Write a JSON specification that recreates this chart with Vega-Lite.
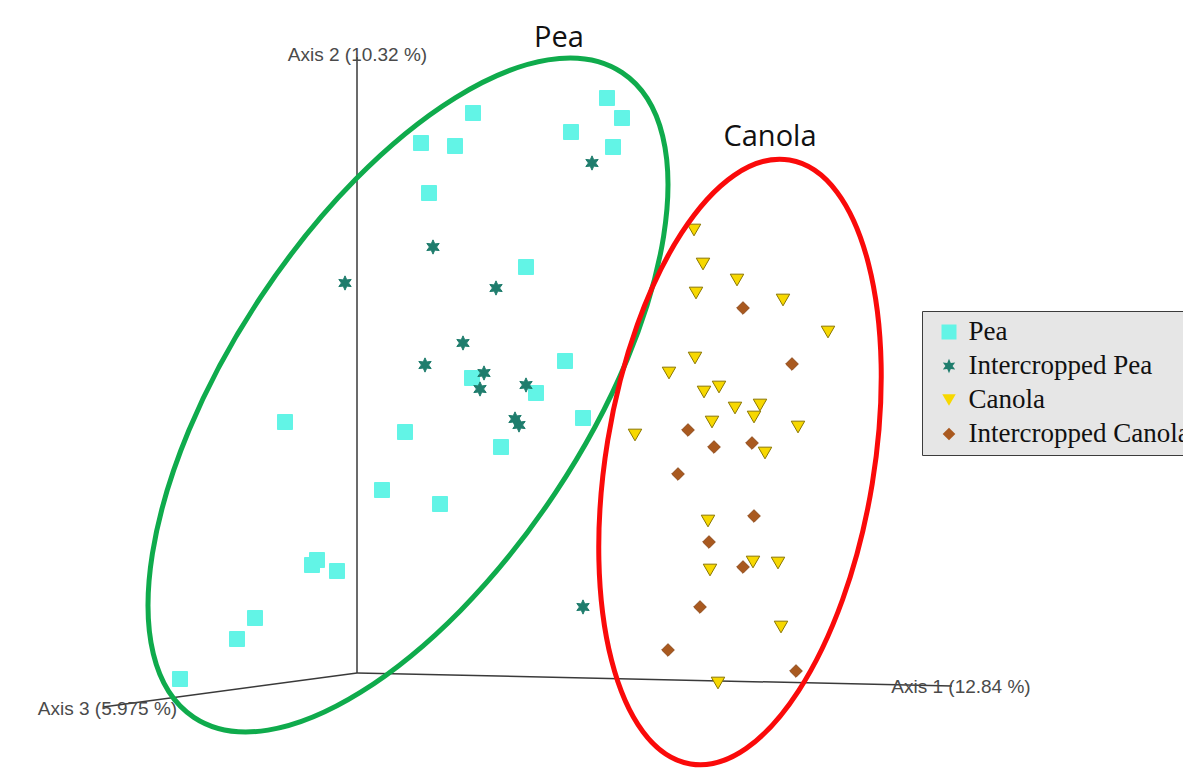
{
  "$schema": "https://vega.github.io/schema/vega-lite/v6.json",
  "width": 1183,
  "height": 772,
  "autosize": {"type": "none"},
  "padding": 0,
  "background": "white",
  "config": {"view": {"stroke": null}},
  "datasets": {
    "axes": [
      {"axis": "Axis 2", "x": 357, "y": 57, "x2": 357, "y2": 673},
      {"axis": "Axis 1", "x": 357, "y": 673, "x2": 952, "y2": 686},
      {"axis": "Axis 3", "x": 357, "y": 673, "x2": 103, "y2": 707}
    ],
    "axisLabels": [
      {"label": "Axis 2 (10.32 %)", "x": 357.5, "y": 55},
      {"label": "Axis 1 (12.84 %)", "x": 961, "y": 687},
      {"label": "Axis 3 (5.975 %)", "x": 107.5, "y": 709}
    ],
    "groupLabels": [
      {"label": "Pea", "x": 559, "y": 38},
      {"label": "Canola", "x": 770, "y": 137}
    ],
    "peaEllipse": [{"group": "Pea", "x": 408, "y": 395}],
    "canolaEllipse": [{"group": "Canola", "x": 740, "y": 462}],
    "points": [
      {"group": "Pea", "x": 473, "y": 113},
      {"group": "Pea", "x": 421, "y": 143},
      {"group": "Pea", "x": 455, "y": 146},
      {"group": "Pea", "x": 429, "y": 193},
      {"group": "Pea", "x": 526, "y": 267},
      {"group": "Pea", "x": 571, "y": 132},
      {"group": "Pea", "x": 607, "y": 98},
      {"group": "Pea", "x": 622, "y": 118},
      {"group": "Pea", "x": 613, "y": 147},
      {"group": "Pea", "x": 472, "y": 378},
      {"group": "Pea", "x": 536, "y": 393},
      {"group": "Pea", "x": 565, "y": 361},
      {"group": "Pea", "x": 583, "y": 418},
      {"group": "Pea", "x": 405, "y": 432},
      {"group": "Pea", "x": 501, "y": 447},
      {"group": "Pea", "x": 382, "y": 490},
      {"group": "Pea", "x": 440, "y": 504},
      {"group": "Pea", "x": 285, "y": 422},
      {"group": "Pea", "x": 317, "y": 560},
      {"group": "Pea", "x": 312, "y": 565},
      {"group": "Pea", "x": 337, "y": 571},
      {"group": "Pea", "x": 255, "y": 618},
      {"group": "Pea", "x": 237, "y": 639},
      {"group": "Pea", "x": 180, "y": 679},
      {"group": "Intercropped Pea", "x": 592, "y": 163},
      {"group": "Intercropped Pea", "x": 433, "y": 247},
      {"group": "Intercropped Pea", "x": 345, "y": 283},
      {"group": "Intercropped Pea", "x": 496, "y": 288},
      {"group": "Intercropped Pea", "x": 463, "y": 343},
      {"group": "Intercropped Pea", "x": 425, "y": 365},
      {"group": "Intercropped Pea", "x": 484, "y": 373},
      {"group": "Intercropped Pea", "x": 480, "y": 389},
      {"group": "Intercropped Pea", "x": 526, "y": 385},
      {"group": "Intercropped Pea", "x": 515, "y": 419},
      {"group": "Intercropped Pea", "x": 519, "y": 425},
      {"group": "Intercropped Pea", "x": 583, "y": 607},
      {"group": "Canola", "x": 694, "y": 230},
      {"group": "Canola", "x": 703, "y": 264},
      {"group": "Canola", "x": 737, "y": 280},
      {"group": "Canola", "x": 696, "y": 293},
      {"group": "Canola", "x": 783, "y": 300},
      {"group": "Canola", "x": 828, "y": 332},
      {"group": "Canola", "x": 695, "y": 358},
      {"group": "Canola", "x": 669, "y": 373},
      {"group": "Canola", "x": 704, "y": 392},
      {"group": "Canola", "x": 719, "y": 387},
      {"group": "Canola", "x": 735, "y": 408},
      {"group": "Canola", "x": 760, "y": 405},
      {"group": "Canola", "x": 754, "y": 417},
      {"group": "Canola", "x": 712, "y": 422},
      {"group": "Canola", "x": 798, "y": 427},
      {"group": "Canola", "x": 635, "y": 435},
      {"group": "Canola", "x": 765, "y": 453},
      {"group": "Canola", "x": 708, "y": 521},
      {"group": "Canola", "x": 710, "y": 570},
      {"group": "Canola", "x": 753, "y": 562},
      {"group": "Canola", "x": 778, "y": 563},
      {"group": "Canola", "x": 781, "y": 627},
      {"group": "Canola", "x": 718, "y": 683},
      {"group": "Intercropped Canola", "x": 743, "y": 308},
      {"group": "Intercropped Canola", "x": 792, "y": 364},
      {"group": "Intercropped Canola", "x": 688, "y": 430},
      {"group": "Intercropped Canola", "x": 714, "y": 447},
      {"group": "Intercropped Canola", "x": 752, "y": 443},
      {"group": "Intercropped Canola", "x": 678, "y": 474},
      {"group": "Intercropped Canola", "x": 754, "y": 516},
      {"group": "Intercropped Canola", "x": 709, "y": 542},
      {"group": "Intercropped Canola", "x": 743, "y": 567},
      {"group": "Intercropped Canola", "x": 700, "y": 607},
      {"group": "Intercropped Canola", "x": 668, "y": 650},
      {"group": "Intercropped Canola", "x": 796, "y": 671}
    ]
  },
  "layer": [
    {
      "data": {"name": "axes"},
      "mark": {"type": "rule", "color": "#3a3a3a", "strokeWidth": 1.5},
      "encoding": {
        "x": {"field": "x", "type": "quantitative", "scale": {"domain": [0, 1183], "nice": false, "zero": false}, "axis": null},
        "y": {"field": "y", "type": "quantitative", "scale": {"domain": [0, 772], "nice": false, "zero": false, "reverse": true}, "axis": null},
        "x2": {"field": "x2"},
        "y2": {"field": "y2"}
      }
    },
    {
      "data": {"name": "points"},
      "mark": {"type": "point", "filled": true, "opacity": 1, "strokeWidth": 1},
      "encoding": {
        "x": {"field": "x", "type": "quantitative"},
        "y": {"field": "y", "type": "quantitative"},
        "color": {
          "field": "group", "type": "nominal",
          "scale": {"domain": ["Pea", "Intercropped Pea", "Canola", "Intercropped Canola"], "range": ["#62f4e6", "#1f7d6d", "#f7d800", "#a9591f"]},
          "legend": {
            "title": null, "orient": "none", "legendX": 922, "legendY": 311,
            "fillColor": "#e6e6e6", "strokeColor": "#3c3c3c", "padding": 7.5,
            "symbolType": "square", "symbolSize": 121, "symbolStrokeWidth": 0, "symbolOffset": 6,
            "labelFont": "Liberation Serif", "labelFontSize": 27, "labelColor": "#111111",
            "labelOffset": 6, "labelLimit": 400, "rowPadding": 6
          }
        },
        "stroke": {
          "field": "group", "type": "nominal",
          "scale": {"domain": ["Pea", "Intercropped Pea", "Canola", "Intercropped Canola"], "range": ["#62f4e6", "#1f7d6d", "#8a7600", "#8e4a1a"]},
          "legend": null
        },
        "shape": {
          "field": "group", "type": "nominal",
          "scale": {"domain": ["Pea", "Intercropped Pea", "Canola", "Intercropped Canola"], "range": ["square", "M0,-1 L0.25,-0.433 L0.866,-0.5 L0.5,0 L0.866,0.5 L0.25,0.433 L0,1 L-0.25,0.433 L-0.866,0.5 L-0.5,0 L-0.866,-0.5 L-0.25,-0.433 Z", "triangle-down", "diamond"]},
          "legend": null
        },
        "size": {
          "field": "group", "type": "nominal",
          "scale": {"domain": ["Pea", "Intercropped Pea", "Canola", "Intercropped Canola"], "range": [225, 160, 300, 270]},
          "legend": null
        }
      }
    },
    {
      "data": {"name": "peaEllipse"},
      "mark": {"type": "point", "filled": false, "shape": "M -1 0 A 1 0.457 0 1 0 1 0 A 1 0.457 0 1 0 -1 0 Z", "size": 599076, "angle": 303.6, "stroke": "#0fab4c", "strokeWidth": 5, "opacity": 1},
      "encoding": {
        "x": {"field": "x", "type": "quantitative"},
        "y": {"field": "y", "type": "quantitative"}
      }
    },
    {
      "data": {"name": "canolaEllipse"},
      "mark": {"type": "point", "filled": false, "shape": "M -1 0 A 1 0.438 0 1 0 1 0 A 1 0.438 0 1 0 -1 0 Z", "size": 374544, "angle": 279.3, "stroke": "#fa0a0a", "strokeWidth": 5, "opacity": 1},
      "encoding": {
        "x": {"field": "x", "type": "quantitative"},
        "y": {"field": "y", "type": "quantitative"}
      }
    },
    {
      "data": {"name": "axisLabels"},
      "mark": {"type": "text", "font": "Liberation Sans", "fontSize": 19, "color": "#4a4a4a", "align": "center", "baseline": "middle"},
      "encoding": {
        "x": {"field": "x", "type": "quantitative"},
        "y": {"field": "y", "type": "quantitative"},
        "text": {"field": "label"}
      }
    },
    {
      "data": {"name": "groupLabels"},
      "mark": {"type": "text", "font": "Open Sans", "fontSize": 29, "color": "#111111", "align": "center", "baseline": "middle"},
      "encoding": {
        "x": {"field": "x", "type": "quantitative"},
        "y": {"field": "y", "type": "quantitative"},
        "text": {"field": "label"}
      }
    }
  ]
}
